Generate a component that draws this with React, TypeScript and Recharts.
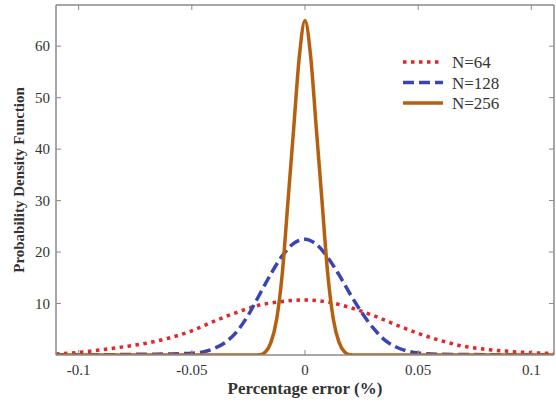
import React from 'react';
import { LineChart, Line, XAxis, YAxis, Legend } from 'recharts';

// x positions (percentage error) and PDF values
const n64X = [-0.11, -0.1, -0.09, -0.08, -0.07, -0.06, -0.05, -0.04, -0.03, -0.02, -0.01, 0, 0.01, 0.02, 0.03, 0.04, 0.05, 0.06, 0.07, 0.08, 0.09, 0.1, 0.11];
const n64Y = [0.2, 0.5, 1.0, 1.6, 2.3, 3.3, 4.7, 6.6, 8.3, 9.7, 10.4, 10.7, 10.3, 9.2, 7.7, 5.9, 4.2, 2.8, 1.7, 1.1, 0.7, 0.45, 0.3];

const n128X = [-0.11, -0.09, -0.07, -0.06, -0.05, -0.045, -0.04, -0.035, -0.03, -0.025, -0.02, -0.015, -0.01, -0.005, 0, 0.005, 0.01, 0.015, 0.02, 0.025, 0.03, 0.035, 0.04, 0.045, 0.05, 0.06, 0.07, 0.09, 0.11];
const n128Y = [0.05, 0.05, 0.15, 0.2, 0.35, 0.6, 1.3, 2.5, 4.6, 7.8, 11.8, 15.8, 19.3, 21.7, 22.5, 21.5, 19.0, 15.6, 11.8, 8.3, 5.3, 3.0, 1.6, 0.8, 0.4, 0.15, 0.1, 0.05, 0.05];

const n256X = [-0.11, -0.03, -0.0225, -0.02, -0.0175, -0.015, -0.0125, -0.01, -0.0075, -0.005, -0.0025, 0, 0.0025, 0.005, 0.0075, 0.01, 0.0125, 0.015, 0.0175, 0.02, 0.0225, 0.03, 0.11];
const n256Y = [0, 0, 0, 0.05, 0.6, 2.5, 7, 16, 30, 44, 58, 65, 58, 44, 30, 16, 7, 2.5, 0.6, 0.05, 0, 0, 0];

const seriesNames = ['N=64', 'N=128', 'N=256'];
const xTicks = [-0.1, -0.05, 0, 0.05, 0.1];
const yTicks = [10, 20, 30, 40, 50, 60];

const toPoints = (xs: number[], ys: number[]) => xs.map((x, i) => ({ x, y: ys[i] }));

const SERIF = "'Liberation Serif', 'Times New Roman', serif";
const AXIS = '#8a8a8a';
const TEXT = '#333';
const colors = ['#e3262b', '#3a44b4', '#b5600f'];
const dashes = ['3.5 4.5', '11 5', undefined];

const tickText = { fontFamily: SERIF, fontSize: 15, fill: TEXT };
const titleText = { fontFamily: SERIF, fontSize: 17, fontWeight: 'bold' as const, fill: TEXT };

const BottomTick = (props: any) => {
  const { x, y, payload } = props;
  return (
    <g>
      <line x1={x} y1={y} x2={x} y2={y - 5} stroke={AXIS} />
      <text x={x} y={y + 20} textAnchor="middle" style={tickText}>
        {payload.value}
      </text>
    </g>
  );
};

const TopTick = (props: any) => {
  const { x, y } = props;
  return <line x1={x} y1={y} x2={x} y2={y + 5} stroke={AXIS} />;
};

const LeftTick = (props: any) => {
  const { x, y, payload } = props;
  return (
    <g>
      <line x1={x} y1={y} x2={x + 5} y2={y} stroke={AXIS} />
      <text x={x - 6} y={y + 5} textAnchor="end" style={tickText}>
        {payload.value}
      </text>
    </g>
  );
};

const RightTick = (props: any) => {
  const { x, y } = props;
  return <line x1={x} y1={y} x2={x - 5} y2={y} stroke={AXIS} />;
};

const YTitle = (props: any) => {
  const vb = props.viewBox;
  const cx = vb.x + 19;
  const cy = vb.y + vb.height / 2;
  return (
    <text
      x={cx}
      y={cy}
      transform={`rotate(-90, ${cx}, ${cy})`}
      textAnchor="middle"
      dominantBaseline="central"
      style={{ ...titleText, fontSize: 15 }}
    >
      Probability Density Function
    </text>
  );
};

const renderLegend = () => (
  <svg width={150} height={72}>
    {seriesNames.map((name, i) => (
      <g key={name}>
        <line
          x1={8}
          x2={48}
          y1={14 + i * 20.5}
          y2={14 + i * 20.5}
          stroke={colors[i]}
          strokeWidth={3.5}
          strokeDasharray={dashes[i]}
        />
        <text x={57} y={14 + i * 20.5 + 6} style={{ fontFamily: SERIF, fontSize: 17, fill: TEXT }}>
          {name}
        </text>
      </g>
    ))}
  </svg>
);

export default function App() {
  const sets = [toPoints(n64X, n64Y), toPoints(n128X, n128Y), toPoints(n256X, n256Y)];
  return (
    <div style={{ position: 'absolute', left: 0, top: 0, width: 556, height: 402, background: '#fff' }}>
      <LineChart width={556} height={402} margin={{ top: 4, right: 1, left: 0, bottom: 0 }}>
        <XAxis
          dataKey="x"
          type="number"
          domain={[-0.11, 0.11]}
          ticks={xTicks}
          allowDataOverflow
          height={47}
          stroke={AXIS}
          strokeWidth={1.5}
          tickLine={false}
          tickSize={0}
          tickMargin={0}
          tick={<BottomTick />}
          label={{
            value: 'Percentage error (%)',
            position: 'insideBottom',
            offset: 8,
            style: titleText,
          }}
        />
        <XAxis
          xAxisId="top"
          orientation="top"
          dataKey="x"
          type="number"
          domain={[-0.11, 0.11]}
          ticks={xTicks}
          allowDataOverflow
          height={1}
          stroke={AXIS}
          strokeWidth={1.5}
          tickLine={false}
          tickSize={0}
          tickMargin={0}
          tick={<TopTick />}
        />
        <YAxis
          type="number"
          domain={[0, 68]}
          ticks={yTicks}
          allowDataOverflow
          width={56}
          stroke={AXIS}
          strokeWidth={1.5}
          tickLine={false}
          tickSize={0}
          tickMargin={0}
          tick={<LeftTick />}
          label={{ content: <YTitle /> }}
        />
        <YAxis
          yAxisId="right"
          orientation="right"
          type="number"
          domain={[0, 68]}
          ticks={yTicks}
          allowDataOverflow
          width={1}
          stroke={AXIS}
          strokeWidth={1.5}
          tickLine={false}
          tickSize={0}
          tickMargin={0}
          tick={<RightTick />}
        />
        <Legend
          layout="vertical"
          align="center"
          verticalAlign="middle"
          content={renderLegend}
          wrapperStyle={{ position: 'absolute', left: 395, top: 48, width: 150, height: 72 }}
        />
        {sets.map((pts, i) => (
          <Line
            key={seriesNames[i]}
            data={pts}
            dataKey="y"
            name={seriesNames[i]}
            type="monotone"
            stroke={colors[i]}
            strokeWidth={3.5}
            strokeDasharray={dashes[i]}
            dot={false}
            activeDot={false}
            isAnimationActive={false}
          />
        ))}
      </LineChart>
    </div>
  );
}
